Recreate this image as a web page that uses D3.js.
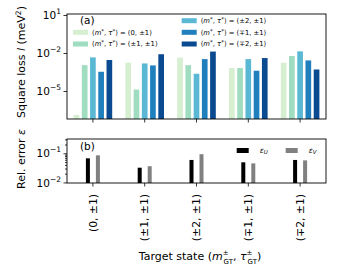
<!DOCTYPE html>
<html><head><meta charset="utf-8">
<script src="https://cdn.jsdelivr.net/npm/d3@7"></script>
<style>body{margin:0;background:#fff}svg{display:block}text{font-family:"DejaVu Sans",sans-serif}</style>
</head><body><svg id="c" width="340" height="280"></svg>
<script>
const categories = ["(0, \u00b11)", "(\u00b11, \u00b11)", "(\u00b12, \u00b11)", "(\u22131, \u00b11)", "(\u22132, \u00b11)"];
const seriesLabels = ["(0, \u00b11)", "(\u00b11, \u00b11)", "(\u00b12, \u00b11)", "(\u22131, \u00b11)", "(\u22132, \u00b11)"];
const seriesColors = ["#d6efd0", "#a0dcbf", "#5bb8d4", "#2080bd", "#0a4a90"];
// square loss per target state (rows) and model (columns)
const loss0 = [1.3e-7, 1.1e-3, 4.5e-3, 3.3e-4, 2.8e-3];
const loss1 = [1.7e-3, 1.3e-5, 1.5e-3, 1.05e-3, 8e-3];
const loss2 = [4.3e-3, 1.1e-3, 2.3e-4, 3.3e-3, 1.3e-2];
const loss3 = [6.5e-4, 6.5e-4, 3.3e-3, 4e-4, 4e-3];
const loss4 = [1.7e-3, 5.8e-3, 1.35e-2, 2.6e-3, 5e-4];
const losses = [loss0, loss1, loss2, loss3, loss4];
const errU = [0.067, 0.032, 0.059, 0.049, 0.059];
const errV = [0.085, 0.036, 0.093, 0.045, 0.057];
const topTicks = [1e1, 1e-2, 1e-5];
const botTicks = [1e-1, 1e-2];

const svg = d3.select("#c");
const L = 67, R = 326;
const x = d3.scaleBand().domain(categories).range([L, R]).padding(0);
const inner = d3.scaleBand().domain(d3.range(5)).range([-19.3, 19.3]).paddingInner(0.31);

const yT = d3.scaleLog().domain([Math.pow(10, -7.21), Math.pow(10, 1.08)]).range([119, 14]);
const yB = d3.scaleLog().domain([Math.pow(10, -2.02), Math.pow(10, -0.51)]).range([183, 139]);

function supText(g, base, exp){
  g.append("tspan").text(base);
  g.append("tspan").attr("dy", -5).attr("font-size", 7.5).text(exp);
}

// top panel bars
const gT = svg.append("g");
losses.forEach((row, i) => {
  gT.selectAll(null).data(row).enter().append("rect")
    .attr("x", (d, j) => x(categories[i]) + x.bandwidth()/2 + inner(j))
    .attr("width", inner.bandwidth())
    .attr("y", d => yT(d))
    .attr("height", d => 119 - yT(d))
    .attr("fill", (d, j) => seriesColors[j]);
});
// top axes
const axTL = svg.append("g").attr("transform", `translate(${L},0)`)
  .call(d3.axisLeft(yT).tickValues(topTicks).tickSize(3.5).tickFormat(""));
axTL.selectAll(".tick").each(function(d){
  const t = d3.select(this).append("text").attr("x", -6).attr("dy", "0.35em")
    .attr("text-anchor", "end").attr("font-size", 10.5).attr("fill", "#000");
  supText(t, "10", d3.format("d")(Math.round(Math.log10(d))).replace("-", "\u2212"));
});
svg.append("g").attr("transform", "translate(0,119)")
  .call(d3.axisBottom(x).tickSize(3.5).tickFormat(""));
svg.append("rect").attr("x", L).attr("y", 14).attr("width", R-L).attr("height", 105)
  .attr("fill", "none").attr("stroke", "#000").attr("stroke-width", 0.9);

// bottom panel bars
const gB = svg.append("g");
gB.selectAll(null).data(errU).enter().append("rect")
  .attr("x", (d, i) => x(categories[i]) + x.bandwidth()/2 - 7)
  .attr("width", 4).attr("y", d => yB(d)).attr("height", d => 183 - yB(d)).attr("fill", "#000");
gB.selectAll(null).data(errV).enter().append("rect")
  .attr("x", (d, i) => x(categories[i]) + x.bandwidth()/2 + 3)
  .attr("width", 4).attr("y", d => yB(d)).attr("height", d => 183 - yB(d)).attr("fill", "#808080");
const minor = [2,3,4,5,6,7,8,9].map(k => k*1e-2).concat([0.2, 0.3]);
svg.append("g").attr("transform", `translate(${L},0)`)
  .call(d3.axisLeft(yB).tickValues(minor).tickSize(2).tickFormat(""));
const axBL = svg.append("g").attr("transform", `translate(${L},0)`)
  .call(d3.axisLeft(yB).tickValues(botTicks).tickSize(3.5).tickFormat(""));
axBL.selectAll(".tick").each(function(d){
  const t = d3.select(this).append("text").attr("x", -6).attr("dy", "0.35em")
    .attr("text-anchor", "end").attr("font-size", 10.5).attr("fill", "#000");
  supText(t, "10", d3.format("d")(Math.round(Math.log10(d))).replace("-", "\u2212"));
});
const axBB = svg.append("g").attr("transform", "translate(0,183)")
  .call(d3.axisBottom(x).tickSize(3.5).tickFormat(""));
axBB.selectAll(".tick").append("text")
  .attr("transform", "translate(0,11) rotate(-90)")
  .attr("text-anchor", "end").attr("dy", "0.35em").attr("font-size", 10.8).attr("fill", "#000")
  .text(d => d);
svg.append("rect").attr("x", L).attr("y", 139).attr("width", R-L).attr("height", 44)
  .attr("fill", "none").attr("stroke", "#000").attr("stroke-width", 0.9);
svg.selectAll(".domain").remove();
svg.selectAll(".tick line").attr("stroke", "#000").attr("stroke-width", 0.8);

// panel labels
svg.append("text").attr("x", 80).attr("y", 24).attr("font-size", 10.5).text("(a)");
svg.append("text").attr("x", 80).attr("y", 150).attr("font-size", 10.5).text("(b)");

// top legend
const legPos = [[73, 32.3], [73, 44], [181.7, 20.7], [181.7, 32.3], [181.7, 44]];
seriesLabels.forEach((lab, j) => {
  const [lx, ly] = legPos[j];
  svg.append("rect").attr("x", lx).attr("y", ly - 2.5).attr("width", 15).attr("height", 5).attr("fill", seriesColors[j]);
  const t = svg.append("text").attr("x", lx + 19).attr("y", ly).attr("dy", "0.35em").attr("font-size", 6.8);
  t.append("tspan").text("(");
  t.append("tspan").attr("font-style", "italic").text("m");
  t.append("tspan").attr("font-size", 5.5).attr("dy", -2).text("*");
  t.append("tspan").attr("dy", 2).text(", ");
  t.append("tspan").attr("font-style", "italic").text("\u03c4");
  t.append("tspan").attr("font-size", 5.5).attr("dy", -2).text("*");
  t.append("tspan").attr("dy", 2).text(") = " + lab);
});

// bottom legend
const legB = [["#000", 236.7, "U"], ["#808080", 285.7, "V"]];
legB.forEach(([c, lx, s]) => {
  svg.append("rect").attr("x", lx).attr("y", 148).attr("width", 12).attr("height", 5).attr("fill", c);
  const t = svg.append("text").attr("x", lx + 23).attr("y", 152.5).attr("font-size", 7.5).attr("font-style", "italic");
  t.append("tspan").text("\u03b5");
  t.append("tspan").attr("font-size", 5.5).attr("dy", 1.5).text(s);
});

// axis titles
const yl1 = svg.append("text").attr("transform", "translate(21,62) rotate(-90)")
  .attr("text-anchor", "middle").attr("dy", "0.35em").attr("font-size", 11);
yl1.append("tspan").text("Square loss ");
yl1.append("tspan").attr("font-style", "italic").text("l");
yl1.append("tspan").text(" (meV");
yl1.append("tspan").attr("font-size", 7.5).attr("dy", -4).text("2");
yl1.append("tspan").attr("dy", 4).text(")");
const yl2 = svg.append("text").attr("transform", "translate(21,159) rotate(-90)")
  .attr("text-anchor", "middle").attr("dy", "0.35em").attr("font-size", 11);
yl2.append("tspan").text("Rel. error ");
yl2.append("tspan").attr("font-style", "italic").text("\u03b5");

const xl = svg.append("text").attr("x", 200).attr("y", 260).attr("text-anchor", "middle").attr("font-size", 11);
xl.append("tspan").text("Target state (");
xl.append("tspan").attr("font-style", "italic").text("m");
xl.append("tspan").attr("font-size", 7).attr("dy", -5.5).text("\u00b1");
xl.append("tspan").attr("font-size", 7).attr("dx", -5).attr("dy", 9.5).text("GT");
xl.append("tspan").attr("dy", -4).text(", ");
xl.append("tspan").attr("font-style", "italic").text("\u03c4");
xl.append("tspan").attr("font-size", 7).attr("dy", -5.5).text("\u00b1");
xl.append("tspan").attr("font-size", 7).attr("dx", -5).attr("dy", 9.5).text("GT");
xl.append("tspan").attr("dy", -4).text(")");
</script></body></html>
